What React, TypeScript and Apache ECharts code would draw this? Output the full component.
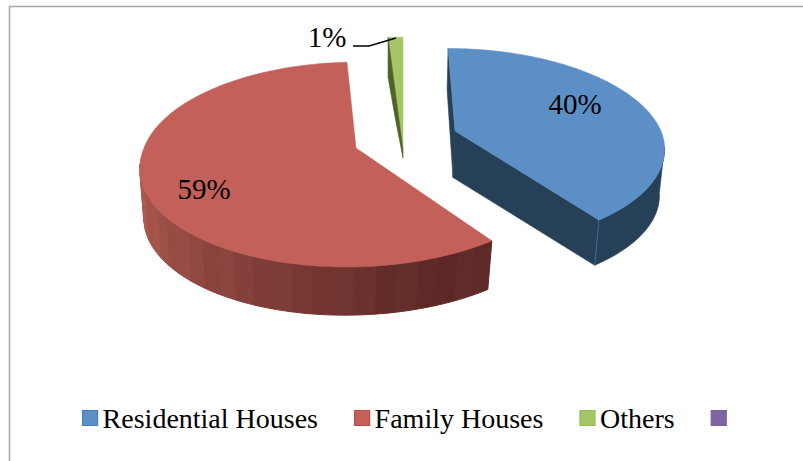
import React, { useEffect, useRef } from "react";
import * as echarts from "echarts";

const categories = ["Residential Houses", "Family Houses", "Others", " "];
const values = [40, 59, 1, 0];
const labels = ["40%", "59%", "1%", ""];

const TOPS = ["#5b8fc6", "#c4605a", "#a5c566", "#8064a2"];
const BORDERS = ["#4a7ebb", "#be4b48", "#98b954", "#7d60a0"];
const P = 0.161;
const BOTTOM = 0.985;
const BOTTOM_LEFT = 0.972;

type Layout = {
  ax: number;
  ay: number;
  rx: number;
  rb: number;
  depth: number;
  skewBack: number;
  skewFront: number;
};
const LAYOUT: Layout[] = [
  { ax: 455, ay: 131, rx: 206, rb: 95.8, depth: 46.5, skewBack: 8, skewFront: 5 },
  { ax: 356, ay: 148, rx: 212, rb: 99.8, depth: 50, skewBack: -2.8, skewFront: -8 },
  { ax: 403, ay: 150, rx: 276, rb: 131, depth: 8, skewBack: 0, skewFront: 0 },
];

const total = values.reduce((a, b) => a + b, 0);
const starts: number[] = [];
values.reduce((acc, v, i) => {
  starts[i] = acc;
  return acc + (v / total) * 360;
}, 0);

function top(l: Layout, deg: number): [number, number] {
  const t = (deg * Math.PI) / 180;
  const u = Math.sin(t);
  const v = -Math.cos(t);
  const w = 1 - P * v;
  const skew = v < 0 ? l.skewBack : l.skewFront;
  return [l.ax + (l.rx * u) / w + (skew * v) / w, l.ay + (l.rb * v) / w];
}
function bottom(l: Layout, deg: number): [number, number] {
  const [x, y] = top(l, deg);
  const shrink = x < l.ax ? BOTTOM_LEFT : BOTTOM;
  return [l.ax - 2 + (x - l.ax) * shrink, l.ay + (y - l.ay) * BOTTOM + l.depth];
}
function mix(a: number[], b: number[], f: number) {
  return `rgb(${a.map((c, i) => Math.round(c + (b[i] - c) * f)).join(",")})`;
}
function poly(points: number[][], fill: string, lineWidth = 0.6) {
  return {
    type: "polygon",
    shape: { points },
    style: { fill, stroke: fill, lineWidth },
  };
}
function text(s: string, x: number, y: number) {
  return {
    type: "text",
    style: {
      text: s,
      x,
      y,
      align: "center",
      verticalAlign: "middle",
      fill: "#000",
      fontFamily: "Liberation Serif",
      fontSize: 29,
    },
  };
}

function sliceItem(i: number) {
  if (values[i] <= 0) return { type: "group", children: [] };
  const l = LAYOUT[i];
  const a0 = starts[i];
  const a1 = a0 + (values[i] / total) * 360;
  const children: any[] = [];
  const topPts: number[][] = [[l.ax, l.ay]];
  const steps = Math.max(4, Math.round(a1 - a0));
  for (let s = 0; s <= steps; s++) topPts.push(top(l, a0 + ((a1 - a0) * s) / steps));

  if (i === 0) {
    const dark = "#264058";
    const rim = top(l, a0);
    children.push(poly([rim, [l.ax, l.ay], [l.ax - 2, l.ay + l.depth], [rim[0] - 1, rim[1] + 41]], dark));
    children.push(poly([[l.ax, l.ay], top(l, a1), bottom(l, a1), [l.ax - 2, l.ay + l.depth]], dark));
    const wall: number[][] = [];
    const back: number[][] = [];
    for (let d = 99; d <= a1; d += 2) {
      wall.push(top(l, d));
      back.unshift(bottom(l, d));
    }
    wall.push(top(l, a1));
    back.unshift(bottom(l, a1));
    children.push(poly([...wall, ...back], dark));
    children.push({
      type: "line",
      shape: { x1: top(l, a1)[0], y1: top(l, a1)[1], x2: bottom(l, a1)[0], y2: bottom(l, a1)[1] },
      style: { stroke: "#3f6a94", lineWidth: 1 },
    });
  }
  if (i === 1) {
    const light = [174, 90, 80];
    const darkC = [94, 41, 38];
    const from = a0;
    const to = 261;
    const bands = 24;
    for (let b = 0; b < bands; b++) {
      const d0 = from + ((to - from) * b) / bands;
      const d1 = from + ((to - from) * (b + 1)) / bands;
      const f = Math.max(0, Math.min(1, (b - 3) / (bands - 5)));
      const jitter = b % 3 === 1 ? 2 : b % 3 === 2 ? -2 : 0;
      const c = mix(darkC.map((x) => x + jitter), light.map((x) => x + jitter), f);
      const pts: number[][] = [];
      const n = 4;
      for (let s = 0; s <= n; s++) pts.push(top(l, d0 + ((d1 - d0) * s) / n));
      for (let s = n; s >= 0; s--) pts.push(bottom(l, d0 + ((d1 - d0) * s) / n));
      children.push(poly(pts, c, 1));
    }
  }
  children.push(poly(topPts, TOPS[i], 0.5));
  if (i === 2) {
    const rim = top(l, a0);
    const tip = [l.ax, l.ay + l.depth];
    children.push(poly([rim, [l.ax, l.ay], tip, [rim[0] + 7, rim[1] + 80], [rim[0], rim[1] + 40]], "#4f6228"));
    children.push({
      type: "polyline",
      shape: { points: [[353, 46], [369, 46], [396, 38]] },
      style: { stroke: "#000", lineWidth: 1.5, fill: "none" },
    });
    children.push(text(labels[i], 327, 37));
  }
  if (i === 0) children.push(text(labels[i], 575, 104));
  if (i === 1) children.push(text(labels[i], 204, 189));
  return { type: "group", children };
}

export default function App() {
  const ref = useRef<HTMLDivElement>(null);
  useEffect(() => {
    document.body.style.margin = "0";
    const chart = echarts.init(ref.current!, undefined, { renderer: "svg" });
    chart.setOption({
      animation: false,
      backgroundColor: "#fff",
      legend: {
        left: 82,
        top: 404,
        padding: 0,
        itemWidth: 15,
        itemHeight: 15,
        itemGap: 36,
        icon: "rect",
        selectedMode: false,
        data: categories.map((name, i) => ({
          name,
          itemStyle: { color: TOPS[i], borderColor: BORDERS[i], borderWidth: 1.2 },
        })),
        textStyle: { fontFamily: "Liberation Serif", fontSize: 28, color: "#000" },
      },
      graphic: [
        { type: "line", shape: { x1: 9.5, y1: 6.5, x2: 9.5, y2: 461 }, style: { stroke: "#a6a6a6", lineWidth: 1.5 } },
        { type: "line", shape: { x1: 9, y1: 6.5, x2: 803, y2: 6.5 }, style: { stroke: "#a6a6a6", lineWidth: 1.5 } },
      ],
      series: categories.map((name, i) => ({
        type: "custom",
        name,
        coordinateSystem: "none",
        itemStyle: { color: TOPS[i] },
        data: [values[i]],
        renderItem: () => sliceItem(i),
      })),
    });
    return () => chart.dispose();
  }, []);
  return <div ref={ref} style={{ position: "fixed", left: 0, top: 0, width: 803, height: 461 }} />;
}
